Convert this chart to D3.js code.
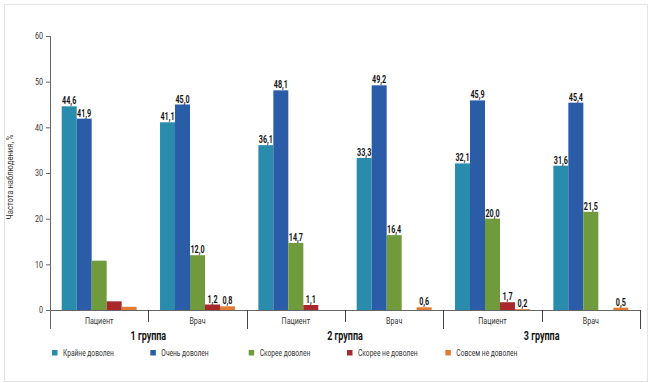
<!DOCTYPE html>
<html>
<head>
<meta charset="utf-8">
<script src="https://cdn.jsdelivr.net/npm/d3@7"></script>
<style>
  body { margin: 0; background: #fff; }
  svg text { font-family: "Roboto", "Liberation Sans", sans-serif; }
</style>
</head>
<body>
<div id="chart"></div>
<script>
// groups and categories
const groups = ["1 группа", "2 группа", "3 группа"];
const roles = ["Пациент", "Врач"];

// series names and colours
const seriesNames = ["Крайне доволен", "Очень доволен", "Скорее доволен", "Скорее не доволен", "Совсем не доволен"];
const seriesColors = ["#2a8cad", "#2b5ca8", "#6f9b3c", "#a8282c", "#e37b33"];

// values, one per category (group x role, in order)
const kraineDovolen = [44.6, 41.1, 36.1, 33.3, 32.1, 31.6];
const ochenDovolen = [41.9, 45.0, 48.1, 49.2, 45.9, 45.4];
const skoreeDovolen = [10.8, 12.0, 14.7, 16.4, 20.0, 21.5];
const skoreeNeDovolen = [1.9, 1.2, 1.1, 0, 1.7, 0];
const sovsemNeDovolen = [0.7, 0.8, 0, 0.6, 0.2, 0.5];

// which values carry a label on the picture
const kraineLabels = [true, true, true, true, true, true];
const ochenLabels = [true, true, true, true, true, true];
const skoreeLabels = [false, true, true, true, true, true];
const skoreeNeLabels = [false, true, true, false, true, false];
const sovsemLabels = [false, true, false, true, true, true];

const yTicks = [0, 10, 20, 30, 40, 50, 60];

const allValues = [kraineDovolen, ochenDovolen, skoreeDovolen, skoreeNeDovolen, sovsemNeDovolen];
const allLabels = [kraineLabels, ochenLabels, skoreeLabels, skoreeNeLabels, sovsemLabels];

const categories = [];
groups.forEach(g => roles.forEach(r => categories.push({ key: g + "|" + r, group: g, role: r })));

const width = 650, height = 383;

const svg = d3.select("#chart").append("svg")
    .attr("width", width)
    .attr("height", height);

// condensed text: squeeze horizontally round its anchor point
function narrowText(parent, x, y, txt, size, scale, opts = {}) {
    return parent.append("g")
        .attr("transform", `translate(${x},${y}) scale(${scale},1)`)
        .append("text")
        .attr("text-anchor", opts.anchor || "middle")
        .style("font-size", size + "px")
        .style("font-weight", opts.bold ? "bold" : "normal")
        .style("fill", opts.fill || "#333")
        .text(txt);
}

// light frame
svg.append("rect")
    .attr("x", 4.5).attr("y", 4.5)
    .attr("width", 643).attr("height", 377)
    .attr("fill", "#fff")
    .attr("stroke", "#e4e4e4");

const x = d3.scaleBand()
    .domain(categories.map(d => d.key))
    .range([50, 640]);

const xSub = d3.scaleBand()
    .domain(seriesNames)
    .range([0, x.bandwidth()])
    .paddingOuter(0.78);

const y = d3.scaleLinear()
    .domain([0, 60])
    .range([310, 36]);

const fmt = v => d3.format(".1f")(v).replace(".", ",");

// bars
seriesNames.forEach((name, si) => {
    const rows = categories.map((c, i) => ({ key: c.key, value: allValues[si][i], label: allLabels[si][i] }));

    svg.append("g").selectAll("rect")
        .data(rows.filter(d => d.value > 0))
        .enter().append("rect")
        .attr("x", d => x(d.key) + xSub(name))
        .attr("y", d => y(d.value))
        .attr("width", xSub.bandwidth())
        .attr("height", d => y(0) - y(d.value))
        .attr("fill", seriesColors[si]);

    const lg = svg.append("g");
    rows.filter(d => d.label).forEach(d => {
        narrowText(lg, x(d.key) + xSub(name) + xSub.bandwidth() / 2, y(d.value) - 2,
            fmt(d.value), 10, 0.72, { bold: true, fill: "#151515" });
    });
});

// y axis
const yAxis = svg.append("g")
    .attr("transform", "translate(50,0)")
    .call(d3.axisLeft(y).tickValues(yTicks).tickSize(4).tickFormat(""));
yAxis.select(".domain").remove();
yAxis.selectAll("line").attr("stroke", "#666");

const tg = svg.append("g");
yTicks.forEach(t => narrowText(tg, 43, y(t) + 3.3, t, 9.5, 0.75, { anchor: "end" }));

svg.append("line")
    .attr("x1", 50.5).attr("x2", 50.5)
    .attr("y1", y(60)).attr("y2", 329)
    .attr("stroke", "#666");

// baseline
svg.append("line")
    .attr("x1", 50).attr("x2", 640)
    .attr("y1", y(0) + 0.5).attr("y2", y(0) + 0.5)
    .attr("stroke", "#666");

// category separators and labels
categories.forEach(c => {
    const xe = x(c.key) + x.bandwidth();
    const major = c.role === "Врач";
    svg.append("line")
        .attr("x1", Math.round(xe) + 0.5).attr("x2", Math.round(xe) + 0.5)
        .attr("y1", y(0)).attr("y2", major ? 329 : 322)
        .attr("stroke", "#444");

    narrowText(svg, x(c.key) + x.bandwidth() / 2, 323.5, c.role, 9.5, 0.75);
});

// group labels
groups.forEach(g => {
    narrowText(svg, x(g + "|Врач"), 340, g, 12.5, 0.72, { bold: true, fill: "#151515" });
});

// y axis title
svg.append("text")
    .attr("transform", `translate(13,${(y(0) + y(60)) / 2 + 4}) rotate(-90) scale(0.85,1)`)
    .attr("text-anchor", "middle")
    .style("font-size", "9px")
    .style("fill", "#333")
    .text("Частота наблюдения, %");

// legend
const legend = svg.append("g").selectAll("g")
    .data(seriesNames)
    .enter().append("g")
    .attr("transform", (d, i) => `translate(${x(categories[i].key) + 2},350)`);

legend.append("rect")
    .attr("width", 5.5).attr("height", 5.5)
    .attr("fill", (d, i) => seriesColors[i]);

legend.each(function(d) {
    narrowText(d3.select(this), 11, 6, d, 9.5, 0.7, { anchor: "start" });
});
</script>
</body>
</html>
